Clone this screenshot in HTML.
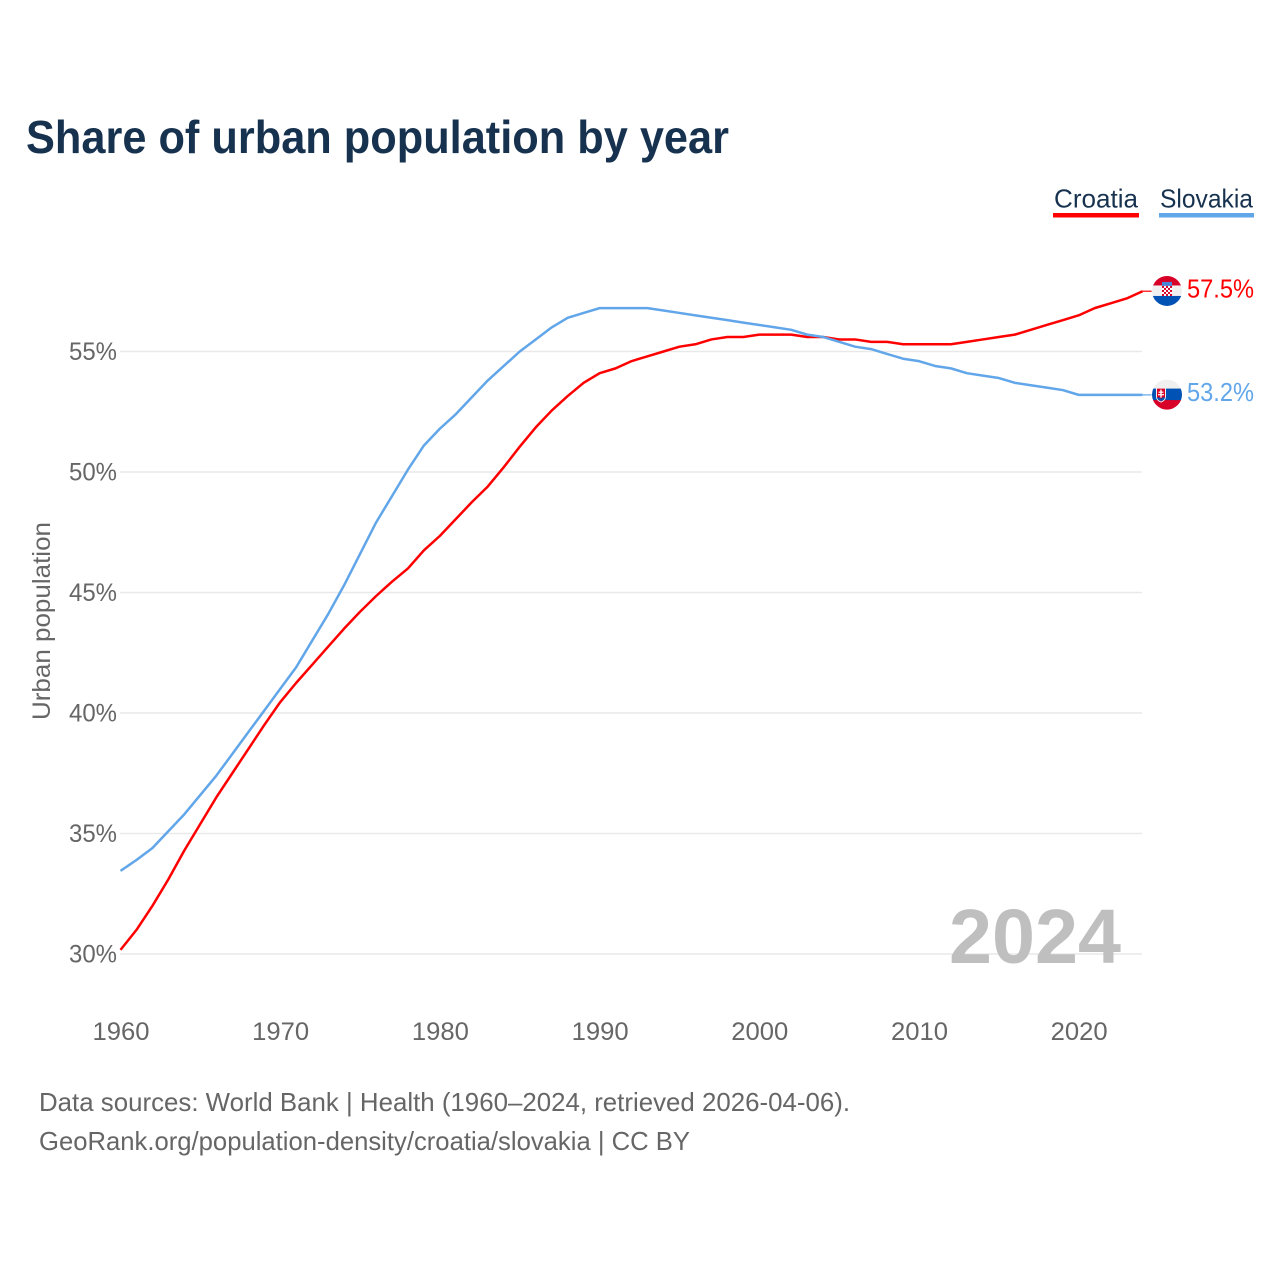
<!DOCTYPE html>
<html lang="en">
<head>
<meta charset="utf-8">
<title>Share of urban population by year</title>
<style>
  html,body{margin:0;padding:0;background:#fff;}
  svg{display:block;font-family:"Liberation Sans",sans-serif;}
</style>
</head>
<body>
<svg id="chart" xmlns="http://www.w3.org/2000/svg" width="1280" height="1280" viewBox="0 0 1280 1280">
  <rect x="0" y="0" width="1280" height="1280" fill="#fff"/>
  <text x="26" y="153" font-size="46" font-weight="700" fill="#17324f" textLength="703" lengthAdjust="spacingAndGlyphs">Share of urban population by year</text>

  <g>
    <text x="1054" y="207.5" font-size="26" fill="#17324f" textLength="84" lengthAdjust="spacingAndGlyphs">Croatia</text>
    <rect x="1053" y="213" width="86" height="4.5" fill="#ff0000"/>
  </g>
  <g>
    <text x="1160" y="207.5" font-size="26" fill="#17324f" textLength="93" lengthAdjust="spacingAndGlyphs">Slovakia</text>
    <rect x="1159" y="213" width="95" height="4.5" fill="#62a6ea"/>
  </g>

  <g id="grid"></g>
  <g id="yticks"></g>
  <g id="xticks"></g>
  <text transform="translate(50,621) rotate(-90)" text-anchor="middle" font-size="25" fill="#666" textLength="198" lengthAdjust="spacingAndGlyphs">Urban population</text>

  <text x="949" y="963" font-size="77" font-weight="700" fill="#bfbfbf" textLength="172" lengthAdjust="spacingAndGlyphs">2024</text>

  <g id="series"></g>

  <defs>
    <clipPath id="flag-clip"><circle cx="0" cy="0" r="15"/></clipPath>
  </defs>

  <g id="flag-croatia">
    <g clip-path="url(#flag-clip)">
      <rect x="-16" y="-16" width="32" height="11" fill="#d80027"/>
      <rect x="-16" y="-5.5" width="32" height="11" fill="#f0f0f0"/>
      <rect x="-16" y="5" width="32" height="11" fill="#0052b4"/>
      <rect x="-5" y="-9" width="10" height="4" fill="#4a86d8"/>
      <rect x="-5" y="-5" width="10" height="10" fill="#d80027"/>
      <rect x="-3" y="-5" width="2" height="2" fill="#fff"/><rect x="1" y="-5" width="2" height="2" fill="#fff"/>
      <rect x="-5" y="-3" width="2" height="2" fill="#fff"/><rect x="-1" y="-3" width="2" height="2" fill="#fff"/><rect x="3" y="-3" width="2" height="2" fill="#fff"/>
      <rect x="-3" y="-1" width="2" height="2" fill="#fff"/><rect x="1" y="-1" width="2" height="2" fill="#fff"/>
      <rect x="-5" y="1" width="2" height="2" fill="#fff"/><rect x="-1" y="1" width="2" height="2" fill="#fff"/><rect x="3" y="1" width="2" height="2" fill="#fff"/>
      <rect x="-3" y="3" width="2" height="2" fill="#fff"/><rect x="1" y="3" width="2" height="2" fill="#fff"/>
    </g>
  </g>
  <g id="flag-slovakia">
    <g clip-path="url(#flag-clip)">
      <rect x="-16" y="-16" width="32" height="10.5" fill="#f0f0f0"/>
      <rect x="-16" y="-6" width="32" height="12" fill="#0052b4"/>
      <rect x="-16" y="5.5" width="32" height="11" fill="#d80027"/>
      <path d="M-11,-7 H-1 V2 Q-1,6 -6,8 Q-11,6 -11,2 Z" fill="#f0f0f0"/>
      <path d="M-10,-6 H-2 V2 Q-2,5 -6,7 Q-10,5 -10,2 Z" fill="#d80027"/>
      <rect x="-6.7" y="-5" width="1.4" height="8" fill="#fff"/>
      <rect x="-8.5" y="-3" width="5" height="1.2" fill="#fff"/>
      <rect x="-9" y="-0.5" width="6" height="1.2" fill="#fff"/>
      <path d="M-10,3 Q-8,2 -6,4 Q-4,2 -2,3 L-3,5 Q-6,7.5 -9,5 Z" fill="#0052b4"/>
    </g>
  </g>

  <text id="value-croatia" x="1187" font-size="26" fill="#ff0000" textLength="67" lengthAdjust="spacingAndGlyphs"></text>
  <text id="value-slovakia" x="1187" font-size="26" fill="#62a6ea" textLength="67" lengthAdjust="spacingAndGlyphs"></text>

  <text x="39" y="1111" font-size="26" fill="#666" textLength="811" lengthAdjust="spacingAndGlyphs">Data sources: World Bank | Health (1960–2024, retrieved 2026-04-06).</text>
  <text x="39" y="1150" font-size="26" fill="#666" textLength="651" lengthAdjust="spacingAndGlyphs">GeoRank.org/population-density/croatia/slovakia | CC BY</text>
</svg>

<script>
var firstYear = 1960;
var croatiaValues = [30.17,31.0,32.0,33.1,34.3,35.4,36.5,37.5,38.5,39.5,40.45,41.25,42.0,42.75,43.5,44.2,44.85,45.45,46.0,46.75,47.35,48.05,48.75,49.4,50.2,51.05,51.85,52.55,53.15,53.7,54.1,54.3,54.6,54.8,55.0,55.2,55.3,55.5,55.6,55.6,55.7,55.7,55.7,55.6,55.6,55.5,55.5,55.4,55.4,55.3,55.3,55.3,55.3,55.4,55.5,55.6,55.7,55.9,56.1,56.3,56.5,56.8,57.0,57.2,57.5];
var slovakiaValues = [33.45,33.9,34.4,35.1,35.8,36.6,37.4,38.3,39.2,40.1,41.0,41.9,43.0,44.1,45.3,46.6,47.9,49.0,50.1,51.1,51.8,52.4,53.1,53.8,54.4,55.0,55.5,56.0,56.4,56.6,56.8,56.8,56.8,56.8,56.7,56.6,56.5,56.4,56.3,56.2,56.1,56.0,55.9,55.7,55.6,55.4,55.2,55.1,54.9,54.7,54.6,54.4,54.3,54.1,54.0,53.9,53.7,53.6,53.5,53.4,53.2,53.2,53.2,53.2,53.2];
var yTickValues = [30,35,40,45,50,55];
var xTickValues = [1960,1970,1980,1990,2000,2010,2020];

var NS = 'http://www.w3.org/2000/svg';
function xScale(year){ return 120.5 + (year - 1960) * 15.97; }
function yScale(v){ return 954 - (v - 30) * 24.1; }
function make(tag, attrs, parent){
  var el = document.createElementNS(NS, tag);
  for (var k in attrs) el.setAttribute(k, attrs[k]);
  parent.appendChild(el);
  return el;
}

var grid = document.getElementById('grid');
var yticks = document.getElementById('yticks');
yTickValues.forEach(function(v){
  var line = make('line', {x1:120, x2:1142, y1:yScale(v), y2:yScale(v), stroke:'#e9e9e9', 'stroke-width':1.5}, grid);
  
  
  var label = make('text', {x:69, y:yScale(v)+8.5, 'font-size':25, fill:'#666', textLength:48, lengthAdjust:'spacingAndGlyphs'}, yticks);
  
  
  label.textContent = v + '%';
});

var xticks = document.getElementById('xticks');
xTickValues.forEach(function(y){
  var label = make('text', {x:xScale(y)-28, y:1040, 'font-size':25, fill:'#666', textLength:57, lengthAdjust:'spacingAndGlyphs'}, xticks);
  
  
  label.textContent = y;
});

var seriesGroup = document.getElementById('series');
function drawSeries(values, color, name, flagId, valueId){
  var pts = values.map(function(v,i){ return xScale(firstYear+i).toFixed(2)+','+yScale(v).toFixed(2); }).join(' ');
  var line = make('polyline', {points:pts, fill:'none', stroke:color, 'stroke-width':2.5, 'stroke-linejoin':'round'}, seriesGroup);
  
  
  var last = values[values.length-1];
  var lastY = yScale(last);
  var lastX = xScale(firstYear+values.length-1);
  var tail = make('line', {x1:lastX, x2:lastX+9, y1:lastY, y2:lastY, stroke:color, 'stroke-width':1.5, opacity:0.8}, seriesGroup);
  
  
  document.getElementById(flagId).setAttribute('transform', 'translate(1167,'+(lastY-0.3)+')');
  var t = document.getElementById(valueId);
  t.setAttribute('y', lastY + 6);
  t.textContent = last.toFixed(1) + '%';
}
drawSeries(croatiaValues, '#ff0000', 'series-croatia', 'flag-croatia', 'value-croatia');
drawSeries(slovakiaValues, '#62a6ea', 'series-slovakia', 'flag-slovakia', 'value-slovakia');
</script>
</body>
</html>
